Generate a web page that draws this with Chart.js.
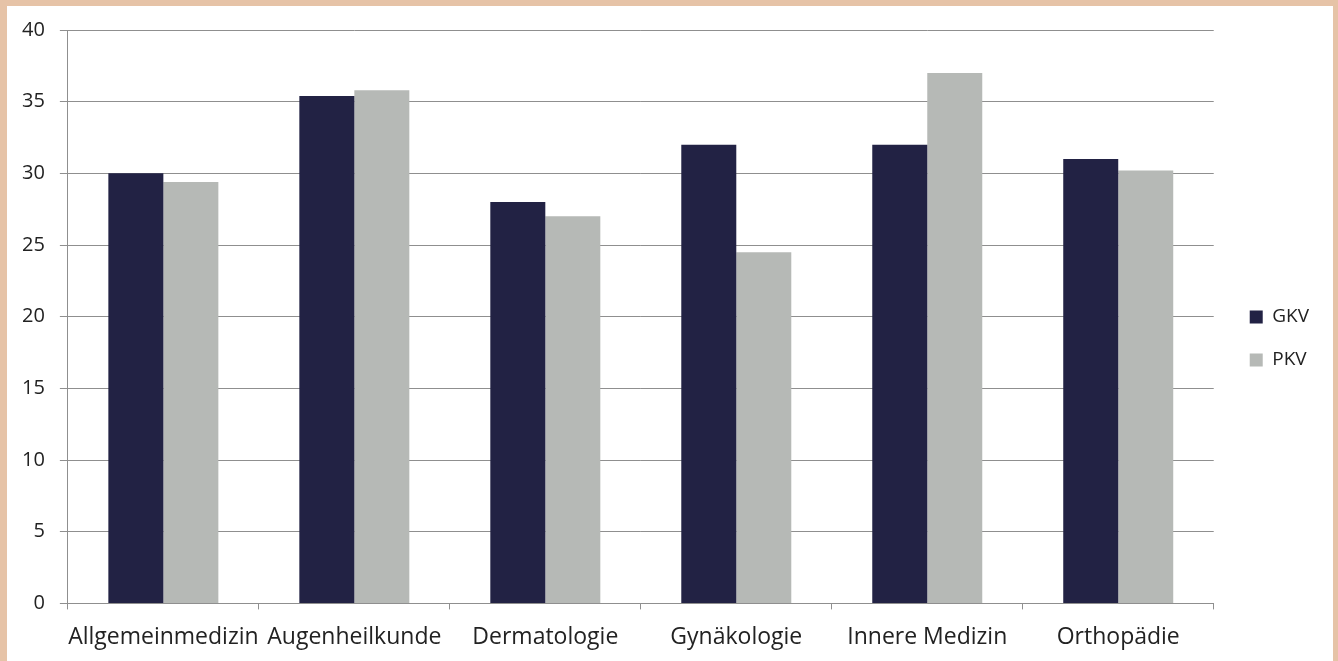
<!DOCTYPE html>
<html lang="de">
<head>
    <meta charset="UTF-8">
    <title>GKV / PKV nach Fachrichtung</title>
    <script src="https://cdn.jsdelivr.net/npm/chart.js"></script>
    <style>
        * { margin: 0; padding: 0; box-sizing: border-box; }
        html, body { width: 1338px; height: 661px; overflow: hidden; }
        body { background: #e6c3a7; position: relative; }
        .frame {
            position: absolute;
            left: 7px; top: 6px;
            width: 1326px; height: 667px;
            background: #fff;
        }
    </style>
</head>
<body>
    <div class="frame">
        <canvas id="chart"></canvas>
    </div>

    <script>
        // Fachrichtungen und Werte
        const categories = ['Allgemeinmedizin', 'Augenheilkunde', 'Dermatologie', 'Gynäkologie', 'Innere Medizin', 'Orthopädie'];
        const gkvValues = [30, 35.4, 28, 32, 32, 31];
        const pkvValues = [29.4, 35.8, 27, 24.5, 37, 30.2];

        const gridColor = '#8f8f8f';
        const textColor = '#222';
        const font = "'Open Sans', 'Liberation Sans', sans-serif";

        // push the legend a bit further right, away from the plot
        const legendShift = {
            id: 'legendShift',
            afterLayout(chart) {
                chart.legend.left += 12;
                chart.legend.right += 12;
                chart.legend.top += 3;
                chart.legend.bottom += 3;
            }
        };

        const ctx = document.getElementById('chart').getContext('2d');
        new Chart(ctx, {
            type: 'bar',
            data: {
                labels: categories,
                datasets: [
                    {
                        label: 'GKV',
                        data: gkvValues,
                        backgroundColor: '#222244',
                        categoryPercentage: 0.576,
                        barPercentage: 1.0
                    },
                    {
                        label: 'PKV',
                        data: pkvValues,
                        backgroundColor: '#b6b9b6',
                        categoryPercentage: 0.576,
                        barPercentage: 1.0
                    }
                ]
            },
            plugins: [legendShift],
            options: {
                responsive: true,
                maintainAspectRatio: false,
                animation: false,
                layout: {
                    padding: { left: 0, right: 26, top: 0, bottom: 8 }
                },
                scales: {
                    x: {
                        afterFit(scale) {
                            scale.paddingLeft = 0;
                            scale.paddingRight = 0;
                        },
                        grid: {
                            offset: true,
                            drawOnChartArea: false,
                            drawTicks: true,
                            tickLength: 6,
                            color: gridColor
                        },
                        border: { color: gridColor, width: 1 },
                        ticks: {
                            color: textColor,
                            font: { family: font, size: 23 },
                            padding: 14,
                            maxRotation: 0,
                            autoSkip: false
                        }
                    },
                    y: {
                        min: 0,
                        max: 40,
                        afterFit(scale) {
                            scale.paddingTop = 24;
                        },
                        grid: {
                            color: gridColor,
                            tickLength: 8
                        },
                        border: { color: gridColor, width: 1 },
                        ticks: {
                            stepSize: 5,
                            color: textColor,
                            font: { family: font, size: 20 },
                            padding: 15
                        }
                    }
                },
                plugins: {
                    legend: {
                        position: 'right',
                        labels: {
                            boxWidth: 13,
                            boxHeight: 13,
                            padding: 24,
                            color: textColor,
                            font: { family: font, size: 19 }
                        }
                    },
                    tooltip: { enabled: false }
                }
            }
        });
    </script>
</body>
</html>
